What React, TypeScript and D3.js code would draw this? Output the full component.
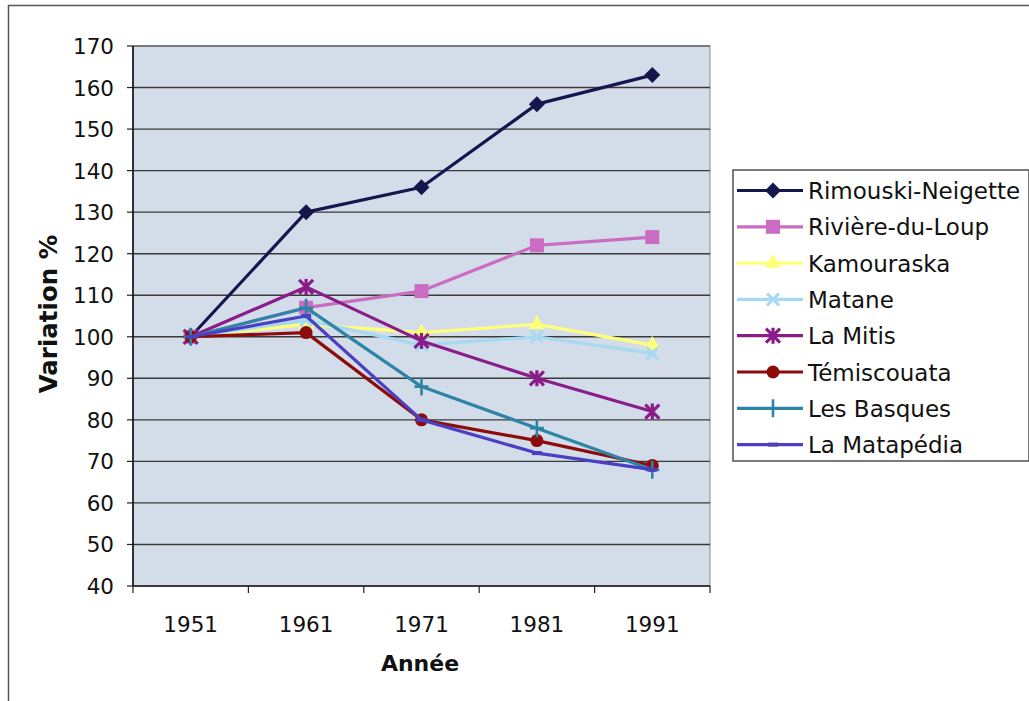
import React from "react";
import * as d3 from "d3";

const years = ["1951", "1961", "1971", "1981", "1991"];
const seriesNames = [
  "Rimouski-Neigette",
  "Rivière-du-Loup",
  "Kamouraska",
  "Matane",
  "La Mitis",
  "Témiscouata",
  "Les Basques",
  "La Matapédia",
];
const rimouski = [100, 130, 136, 156, 163];
const riviere = [100, 107, 111, 122, 124];
const kamouraska = [100, 103, 101, 103, 98];
const matane = [100, 104, 98, 100, 96];
const laMitis = [100, 112, 99, 90, 82];
const temiscouata = [100, 101, 80, 75, 69];
const lesBasques = [100, 107, 88, 78, 68];
const matapedia = [100, 105, 80, 72, 68];
const yTicks = [40, 50, 60, 70, 80, 90, 100, 110, 120, 130, 140, 150, 160, 170];

const allValues = [rimouski, riviere, kamouraska, matane, laMitis, temiscouata, lesBasques, matapedia];
const colors = ["#16164e", "#c96cc2", "#ffff7a", "#a6d9f2", "#8a1c8a", "#8c0c0c", "#2e84a6", "#4b40c2"];
const markers = ["diamond", "square", "triangle", "x", "star", "circle", "plus", "dash"];

const FONT = "'DejaVu Sans', Verdana, sans-serif";

const Marker = ({ kind, color, x, y }: { kind: string; color: string; x: number; y: number }) => {
  const t = `translate(${x},${y})`;
  switch (kind) {
    case "diamond":
      return <path transform={t} d="M0,-8L8,0L0,8L-8,0Z" fill={color} />;
    case "square":
      return <rect x={x - 7} y={y - 7} width={14} height={14} fill={color} />;
    case "triangle":
      return <path transform={t} d={d3.symbol(d3.symbolTriangle, 110)()!} fill={color} />;
    case "x":
      return <path transform={t} d="M-6,-6L6,6M-6,6L6,-6" stroke={color} strokeWidth={3} fill="none" />;
    case "star":
      return (
        <path transform={t} d="M-7,-7L7,7M-7,7L7,-7M0,-8L0,8" stroke={color} strokeWidth={3.2} fill="none" />
      );
    case "circle":
      return <circle cx={x} cy={y} r={6.5} fill={color} />;
    case "plus":
      return <path transform={t} d="M0,-9L0,9M-7,0L7,0" stroke={color} strokeWidth={2.6} fill="none" />;
    case "dash":
      return <rect x={x - 5} y={y - 2} width={10} height={4} fill={color} />;
    default:
      return null;
  }
};

const App = () => {
  const left = 133;
  const right = 710;
  const top = 46;
  const bottom = 586;

  const x = d3.scaleBand().domain(years).range([left, right]).padding(0);
  const y = d3.scaleLinear().domain([40, 170]).range([bottom, top]);
  const cx = (d: string) => (x(d) || 0) + x.bandwidth() / 2;

  const line = d3
    .line<number>()
    .x((_, i) => cx(years[i]))
    .y((d) => y(d));

  const legendX = 733;
  const legendTop = 170;
  const legendStep = 36.3;

  return (
    <svg
      width={1029}
      height={701}
      style={{ position: "absolute", left: 0, top: 0, background: "#fff" }}
      fontFamily={FONT}
    >
      {/* outer frame */}
      <rect x={8.5} y={5.5} width={1030} height={700} fill="none" stroke="#555" strokeWidth={1.5} />

      {/* plot area */}
      <rect x={left} y={top} width={right - left} height={bottom - top} fill="#d3dde9" stroke="#888" strokeWidth={1} />

      {yTicks.map((t) => (
        <g key={t}>
          {t > 40 && t < 170 && (
            <line x1={left} x2={right} y1={y(t)} y2={y(t)} stroke="#3a3a3a" strokeWidth={1.4} />
          )}
          <line x1={left - 6} x2={left} y1={y(t)} y2={y(t)} stroke="#222" strokeWidth={1.2} />
          <text x={114} y={y(t) + 8} textAnchor="end" fontSize={21.5} fill="#111">
            {t}
          </text>
        </g>
      ))}
      <line x1={left} x2={right} y1={top} y2={top} stroke="#666" strokeWidth={1.4} />

      {/* axes */}
      <line x1={left} x2={left} y1={top} y2={bottom} stroke="#111" strokeWidth={1.6} />
      <line x1={left} x2={right} y1={bottom} y2={bottom} stroke="#111" strokeWidth={1.6} />
      {years.map((yr) => (
        <line
          key={"xt" + yr}
          x1={x(yr) || 0}
          x2={x(yr) || 0}
          y1={bottom}
          y2={bottom + 7}
          stroke="#222"
          strokeWidth={1.2}
        />
      ))}
      <line x1={right} x2={right} y1={bottom} y2={bottom + 7} stroke="#222" strokeWidth={1.2} />
      {years.map((yr) => (
        <text key={"xl" + yr} x={cx(yr)} y={632} textAnchor="middle" fontSize={21.5} fill="#111">
          {yr}
        </text>
      ))}

      {/* series */}
      {allValues.map((vals, si) => (
        <g key={seriesNames[si]}>
          <path d={line(vals)!} fill="none" stroke={colors[si]} strokeWidth={3.2} strokeLinejoin="round" />
          {vals.map((v, i) => (
            <Marker key={i} kind={markers[si]} color={colors[si]} x={cx(years[i])} y={y(v)} />
          ))}
        </g>
      ))}

      {/* axis titles */}
      <text x={420} y={671} textAnchor="middle" fontSize={22} fontWeight="bold" fill="#111">
        Année
      </text>
      <text
        transform={`translate(57,314) rotate(-90)`}
        textAnchor="middle"
        fontSize={24.5}
        fontWeight="bold"
        fill="#111"
      >
        Variation %
      </text>

      {/* legend */}
      <rect x={legendX} y={legendTop} width={296} height={291} fill="#fff" stroke="#444" strokeWidth={1.4} />
      {seriesNames.map((name, si) => {
        const ly = legendTop + 20.5 + si * legendStep;
        return (
          <g key={"lg" + name}>
            <line x1={737} x2={803} y1={ly} y2={ly} stroke={colors[si]} strokeWidth={3.2} />
            <Marker kind={markers[si]} color={colors[si]} x={773} y={ly} />
            <text x={808} y={ly + 8.5} fontSize={23} fill="#111">
              {name}
            </text>
          </g>
        );
      })}
    </svg>
  );
};

export default App;
